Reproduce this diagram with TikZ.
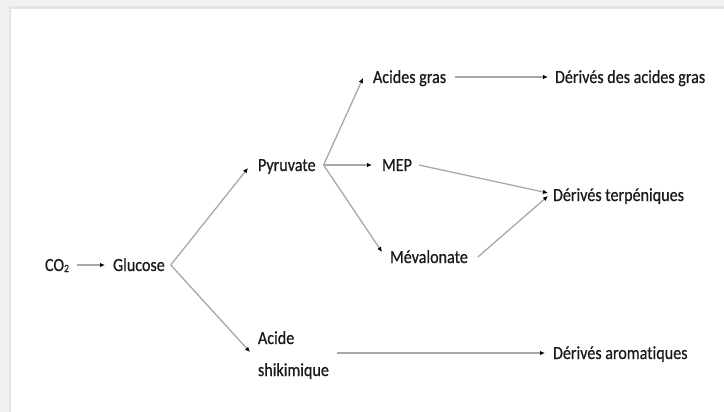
\documentclass[tikz,border=0pt]{standalone}
\usepackage{fontspec}
\setmainfont{Carlito}[FakeStretch=0.87,FakeBold=0.6,RawFeature=-liga]
\usetikzlibrary{arrows.meta}
\definecolor{txt}{HTML}{1A1A1A}
\definecolor{ln}{HTML}{A8A8A8}
\definecolor{band}{HTML}{F1F1F1}
\definecolor{bandedge}{HTML}{E3E3E3}
\begin{document}
\begin{tikzpicture}[x=1pt,y=-1pt,
  lbl/.style={anchor=base west,inner sep=0pt,outer sep=0pt,text=txt,font=\fontsize{18.5}{32}\selectfont},
  arr/.style={draw=ln,line width=1.3pt,-{Latex[length=5pt,width=4.5pt,color=black]}}]
\useasboundingbox (0,0) rectangle (724,412);
\fill[white] (0,0) rectangle (724,412);
% frame bands
\fill[band] (0,0) rectangle (724,6);
\fill[bandedge] (9,6) rectangle (724,9);
\fill[band] (0,0) rectangle (9,412);
\fill[bandedge] (9,6) rectangle (11,412);
% nodes
\node[lbl] (co2) at (45,271) {CO\raisebox{-1pt}{\fontsize{11}{11}\selectfont 2}};
\node[lbl] (glucose) at (113,271) {Glucose};
\node[lbl] (pyruvate) at (258,171) {Pyruvate};
\node[lbl] (acide) at (258,344) {\begin{tabular}[t]{@{}l@{}}Acide\\shikimique\end{tabular}};
\node[lbl] (acidesgras) at (373,83) {Acides gras};
\node[lbl] (mep) at (382,171) {MEP};
\node[lbl] (meva) at (390,263) {Mévalonate};
\node[lbl] (dag) at (555,83) {Dérivés des acides gras};
\node[lbl] (dterp) at (553,201) {Dérivés terpéniques};
\node[lbl] (darom) at (553,359) {Dérivés aromatiques};
% connectors
\draw[arr] ([shift={(8,-6)}]co2.base east) -- ([shift={(-8,-6)}]glucose.base west);
\draw[arr] ([shift={(6,-6)}]glucose.base east) -- ([shift={(-10,-3)}]pyruvate.base west);
\draw[arr] ([shift={(6,-6)}]glucose.base east) -- ([shift={(-8,8)}]acide.base west);
\draw[arr] ([shift={(8,-6)}]pyruvate.base east) -- ([shift={(-10,-5)}]acidesgras.base west);
\draw[arr] ([shift={(8,-6)}]pyruvate.base east) -- ([shift={(-10,-6)}]mep.base west);
\draw[arr] ([shift={(8,-6)}]pyruvate.base east) -- ([shift={(-8,-11)}]meva.base west);
\draw[arr] ([shift={(9,-6)}]acidesgras.base east) -- ([shift={(-7,-6)}]dag.base west);
\draw[arr] ([shift={(7,-6)}]mep.base east) -- ([shift={(-5,-8)}]dterp.base west);
\draw[arr] ([shift={(10,-6)}]meva.base east) -- ([shift={(-5,-5)}]dterp.base west);
\draw[arr] ([shift={(8,9)}]acide.base east) -- ([shift={(-8,-6)}]darom.base west);
\end{tikzpicture}
\end{document}
